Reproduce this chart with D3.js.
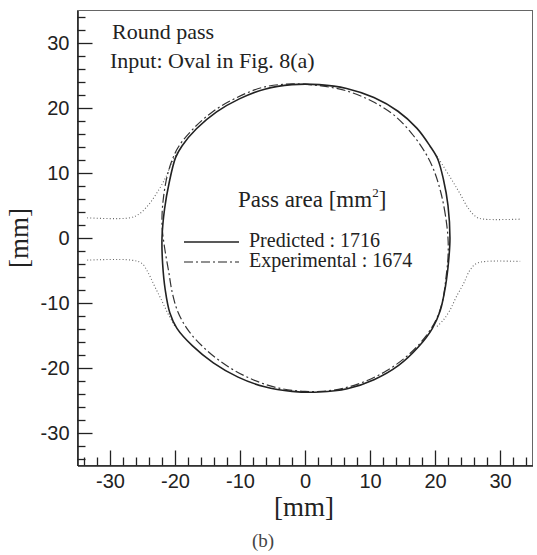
<!DOCTYPE html>
<html>
<head>
<meta charset="utf-8">
<script src="https://cdn.jsdelivr.net/npm/d3@7"></script>
<style>
  body { margin: 0; background: #fff; }
</style>
</head>
<body>
<div id="viz"></div>
<script>
// predicted contour (solid), [x, y] in mm
const predicted = [
  [22.3, 0.0], [22.0, 5.0], [21.3, 9.0], [20.4, 12.2], [19.2, 14.2], [17.2, 16.9],
  [14.3, 19.5], [10.6, 21.6], [6.4, 23.0], [2.2, 23.6], [-2.0, 23.6], [-6.2, 22.9],
  [-10.1, 21.4], [-13.6, 19.4], [-16.7, 16.8], [-18.9, 14.2], [-19.9, 12.4], [-20.9, 8.5],
  [-21.6, 4.5], [-22.0, 0.0], [-21.9, -4.0], [-21.5, -8.0], [-20.8, -11.5], [-19.7, -13.9],
  [-17.3, -16.6], [-14.1, -19.2], [-10.3, -21.4], [-6.2, -22.9], [-2.0, -23.6], [2.2, -23.7],
  [6.5, -23.2], [10.6, -21.8], [14.4, -19.6], [17.5, -16.7], [19.6, -13.9], [20.8, -11.2],
  [21.6, -7.5], [22.1, -3.5]
];

// experimental contour (dash-dot)
const experimental = [
  [22.0, 0.0], [21.6, 3.5], [20.9, 7.0], [19.8, 10.5], [18.4, 13.3], [16.4, 16.1],
  [13.7, 18.9], [10.4, 21.0], [6.5, 22.6], [2.5, 23.4], [-2.0, 23.7], [-6.4, 23.2],
  [-10.5, 21.6], [-14.1, 19.5], [-17.2, 16.8], [-19.6, 13.8], [-21.0, 10.3], [-21.8, 6.0],
  [-22.0, 2.0], [-21.6, -1.5], [-21.0, -5.0], [-20.4, -8.5], [-19.5, -11.5], [-17.9, -14.3],
  [-15.2, -17.2], [-11.8, -19.8], [-8.0, -21.8], [-4.0, -23.1], [0.0, -23.6], [4.4, -23.4],
  [8.6, -22.3], [12.6, -20.4], [16.0, -17.9], [18.6, -15.1], [20.3, -12.3], [21.2, -9.5],
  [21.7, -6.0], [22.0, -3.0]
];

// roll groove outline (dotted), four visible pieces
const rollUpperLeft = [[-33.5, 3.1], [-27.0, 3.1], [-25.5, 3.7], [-24.0, 5.2], [-22.5, 7.4], [-21.4, 9.4], [-20.5, 11.6], [-19.5, 13.4]];
const rollLowerLeft = [[-33.5, -3.4], [-26.7, -3.4], [-25.1, -3.9], [-24.1, -5.4], [-23.1, -7.5], [-22.1, -9.5], [-21.1, -11.6], [-20.0, -13.6]];
const rollUpperRight = [[20.3, 12.6], [22.3, 9.4], [23.8, 6.9], [25.1, 4.6], [26.4, 3.2], [27.5, 2.9], [33.1, 2.9]];
const rollLowerRight = [[20.3, -13.6], [21.3, -12.6], [22.3, -11.1], [23.3, -9.0], [24.4, -7.0], [25.4, -4.9], [26.4, -3.9], [27.9, -3.6], [33.1, -3.6]];

const majorTicks = [-30, -20, -10, 0, 10, 20, 30];
const minorTicks = d3.range(-34, 35, 2).filter(v => v % 10 != 0);

const legendTitle = "Pass area [mm";
const legendEntries = [
  { label: "Predicted : 1716", dash: null },
  { label: "Experimental : 1674", dash: "9,3,2,3" }
];

let w = 537;
let h = 555;

const svg = d3.select("#viz")
  .append("svg")
  .attr("width", w)
  .attr("height", h);

const xScale = d3.scaleLinear()
  .domain([-35, 35])
  .range([77.5, 532.5]);

const yScale = d3.scaleLinear()
  .domain([-35, 35])
  .range([465.5, 10.5]);

// frame
svg.append("rect")
  .attr("x", xScale(-35))
  .attr("y", yScale(35))
  .attr("width", xScale(35) - xScale(-35))
  .attr("height", yScale(-35) - yScale(35))
  .attr("fill", "none")
  .attr("stroke", "#666")
  .attr("stroke-width", 1);

// minor ticks
svg.append("g")
  .attr("transform", `translate(0,${yScale(-35)})`)
  .call(d3.axisBottom(xScale).tickValues(minorTicks).tickSize(-8).tickSizeOuter(0).tickFormat(""))
  .call(g => g.select(".domain").remove());

svg.append("g")
  .attr("transform", `translate(${xScale(-35)},0)`)
  .call(d3.axisLeft(yScale).tickValues(minorTicks).tickSize(-8).tickSizeOuter(0).tickFormat(""))
  .call(g => g.select(".domain").remove());

// major ticks with labels (plain hyphen for negatives)
let xAxis = svg.append("g")
  .attr("transform", `translate(0,${yScale(-35)})`)
  .call(d3.axisBottom(xScale).tickValues(majorTicks).tickSize(-15).tickSizeOuter(0).tickPadding(8).tickFormat(d => String(d)));

let yAxis = svg.append("g")
  .attr("transform", `translate(${xScale(-35)},0)`)
  .call(d3.axisLeft(yScale).tickValues(majorTicks).tickSize(-15).tickSizeOuter(0).tickPadding(8).tickFormat(d => String(d)));

[xAxis, yAxis].forEach(a => {
  a.attr("font-family", "'Liberation Sans', Arial, sans-serif")
    .attr("font-size", 20);
  a.selectAll("text").attr("fill", "#222");
  a.select(".domain").attr("stroke", "#222").attr("stroke-width", 1.6);
});
svg.selectAll("g line").attr("stroke", "#222").attr("stroke-width", 1.3);

// curves
const line = d3.line()
  .x(d => xScale(d[0]))
  .y(d => yScale(d[1]));

let rollGroup = svg.append("g");
[rollUpperLeft, rollLowerLeft, rollUpperRight, rollLowerRight].forEach(r => {
  rollGroup.append("path")
    .attr("d", line.curve(d3.curveCatmullRom)(r))
    .attr("fill", "none")
    .attr("stroke", "#666")
    .attr("stroke-width", 1.1)
    .attr("stroke-dasharray", "1,2.2");
});

svg.append("path")
  .attr("d", line.curve(d3.curveCatmullRomClosed)(experimental))
  .attr("fill", "none")
  .attr("stroke", "#333")
  .attr("stroke-width", 1.2)
  .attr("stroke-dasharray", "9,3,2,3");

svg.append("path")
  .attr("d", line.curve(d3.curveCatmullRomClosed)(predicted))
  .attr("fill", "none")
  .attr("stroke", "#222")
  .attr("stroke-width", 1.6);

// texts
const serif = "'Liberation Serif', 'Times New Roman', serif";

svg.append("text")
  .attr("x", 112).attr("y", 39)
  .attr("font-family", serif).attr("font-size", 22).attr("fill", "#222")
  .text("Round pass");

svg.append("text")
  .attr("x", 110).attr("y", 68)
  .attr("font-family", serif).attr("font-size", 22).attr("fill", "#222")
  .text("Input: Oval in Fig. 8(a)");

// legend
let legend = svg.append("g");
let title = legend.append("text")
  .attr("x", 238).attr("y", 206.5)
  .attr("font-family", serif).attr("font-size", 23).attr("fill", "#222");
title.append("tspan").text(legendTitle);
title.append("tspan").attr("font-size", 13).attr("dy", -10).text("2");
title.append("tspan").attr("dy", 10).text("]");

legendEntries.forEach((e, i) => {
  let ly = 242 + i * 20;
  legend.append("line")
    .attr("x1", 184).attr("x2", 239)
    .attr("y1", ly).attr("y2", ly)
    .attr("stroke", "#222")
    .attr("stroke-width", e.dash ? 1.2 : 1.6)
    .attr("stroke-dasharray", e.dash);
  legend.append("text")
    .attr("x", 249).attr("y", ly + 4.8)
    .attr("font-family", serif).attr("font-size", 20).attr("fill", "#222")
    .text(e.label);
});

// axis titles
svg.append("text")
  .attr("x", 304).attr("y", 516)
  .attr("text-anchor", "middle")
  .attr("font-family", serif).attr("font-size", 27).attr("fill", "#222")
  .text("[mm]");

svg.append("text")
  .attr("transform", `translate(28,${yScale(0)}) rotate(-90)`)
  .attr("text-anchor", "middle")
  .attr("font-family", serif).attr("font-size", 27).attr("fill", "#222")
  .text("[mm]");

svg.append("text")
  .attr("x", 263).attr("y", 547)
  .attr("text-anchor", "middle")
  .attr("font-family", serif).attr("font-size", 19).attr("fill", "#444")
  .text("(b)");
</script>
</body>
</html>
